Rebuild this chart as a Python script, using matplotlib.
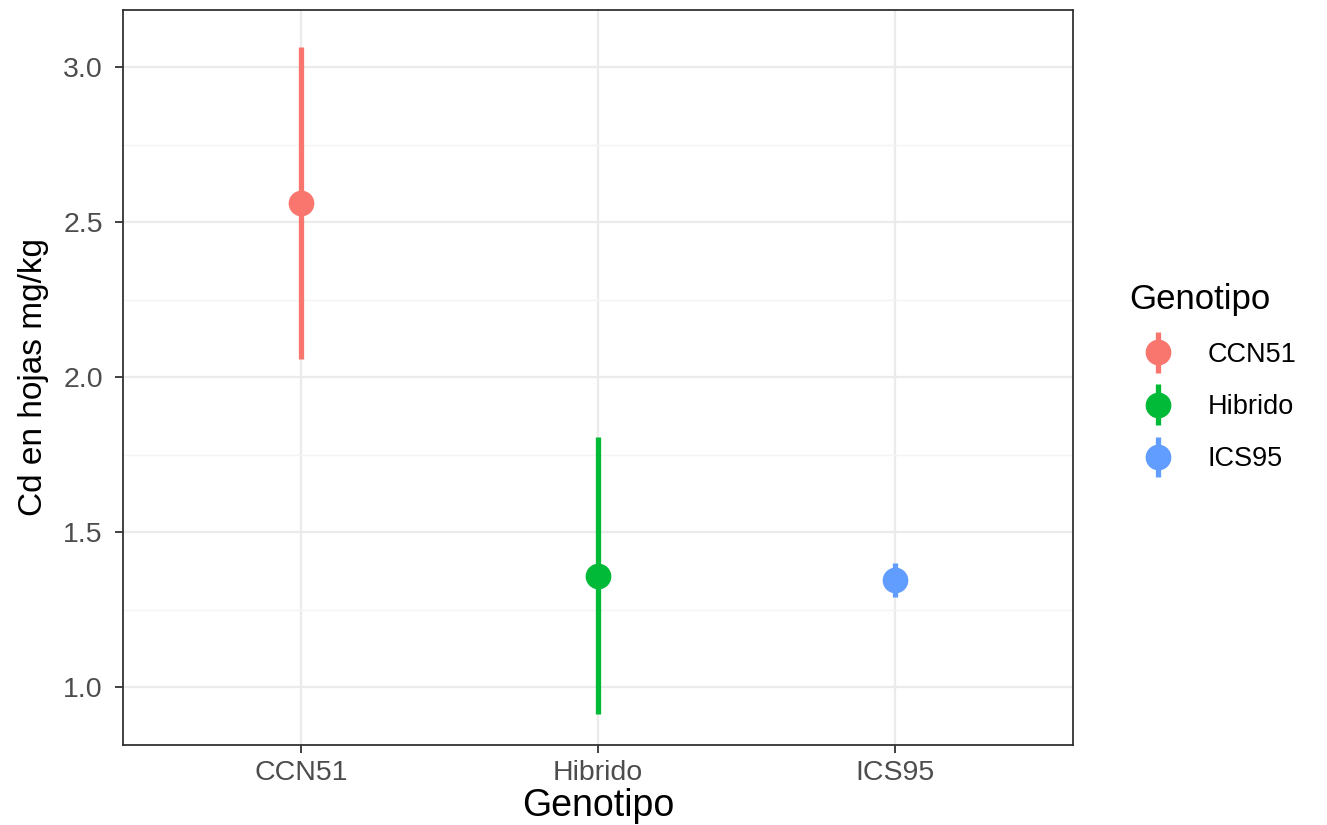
import matplotlib
matplotlib.use("Agg")
import matplotlib.pyplot as plt
from matplotlib.ticker import MultipleLocator, FormatStrFormatter
from matplotlib.legend_handler import HandlerErrorbar

plt.rcParams["font.family"] = ["Liberation Sans", "DejaVu Sans"]

genotipos = ["CCN51", "Hibrido", "ICS95"]
medias = [2.561, 1.358, 1.345]
inferior = [2.058, 0.913, 1.290]
superior = [3.065, 1.806, 1.400]
colores = ["#F8766D", "#00BA38", "#619CFF"]

fig = plt.figure(figsize=(13.27, 8.25), dpi=100)
ax = fig.add_axes([0.0927, 0.097, 0.7159, 0.8909])

for i, (g, m, lo, hi, c) in enumerate(zip(genotipos, medias, inferior, superior, colores)):
    ax.errorbar(i, m, yerr=[[m - lo], [hi - m]], fmt="o", color=c, ecolor=c,
                elinewidth=3.8, ms=17.5, capsize=0, label=g, zorder=3)

ax.set_xlim(-0.6, 2.6)
ax.set_ylim(0.813, 3.184)
ax.set_xticks(range(len(genotipos)))
ax.set_xticklabels(genotipos)
ax.yaxis.set_major_locator(MultipleLocator(0.5))
ax.yaxis.set_minor_locator(MultipleLocator(0.25))
ax.yaxis.set_major_formatter(FormatStrFormatter("%.1f"))

ax.grid(which="major", color="#EBEBEB", lw=1.6, zorder=0)
ax.grid(which="minor", axis="y", color="#F4F4F4", lw=1.0, zorder=0)
ax.set_axisbelow(True)
ax.tick_params(which="minor", length=0)
ax.tick_params(which="major", length=6, width=1.3, color="#333333",
               labelsize=20.5, labelcolor="#4D4D4D", pad=5)
ax.tick_params(axis="y", pad=8.5)
for s in ax.spines.values():
    s.set_color("#333333")
    s.set_linewidth(1.3)

ax.set_xlabel("Genotipo", fontsize=27, labelpad=1)
ax.set_ylabel("Cd en hojas mg/kg", fontsize=24, labelpad=10)

leg = ax.legend(title="Genotipo", loc="center left", bbox_to_anchor=(1.034, 0.5),
                frameon=False, fontsize=19.5, title_fontsize=25, handlelength=2.07,
                labelspacing=0.97, handletextpad=0.8, numpoints=1,
                handler_map={matplotlib.container.ErrorbarContainer: HandlerErrorbar(yerr_size=0.75)})
leg._legend_box.align = "left"

fig.savefig("out.png", dpi=100)
